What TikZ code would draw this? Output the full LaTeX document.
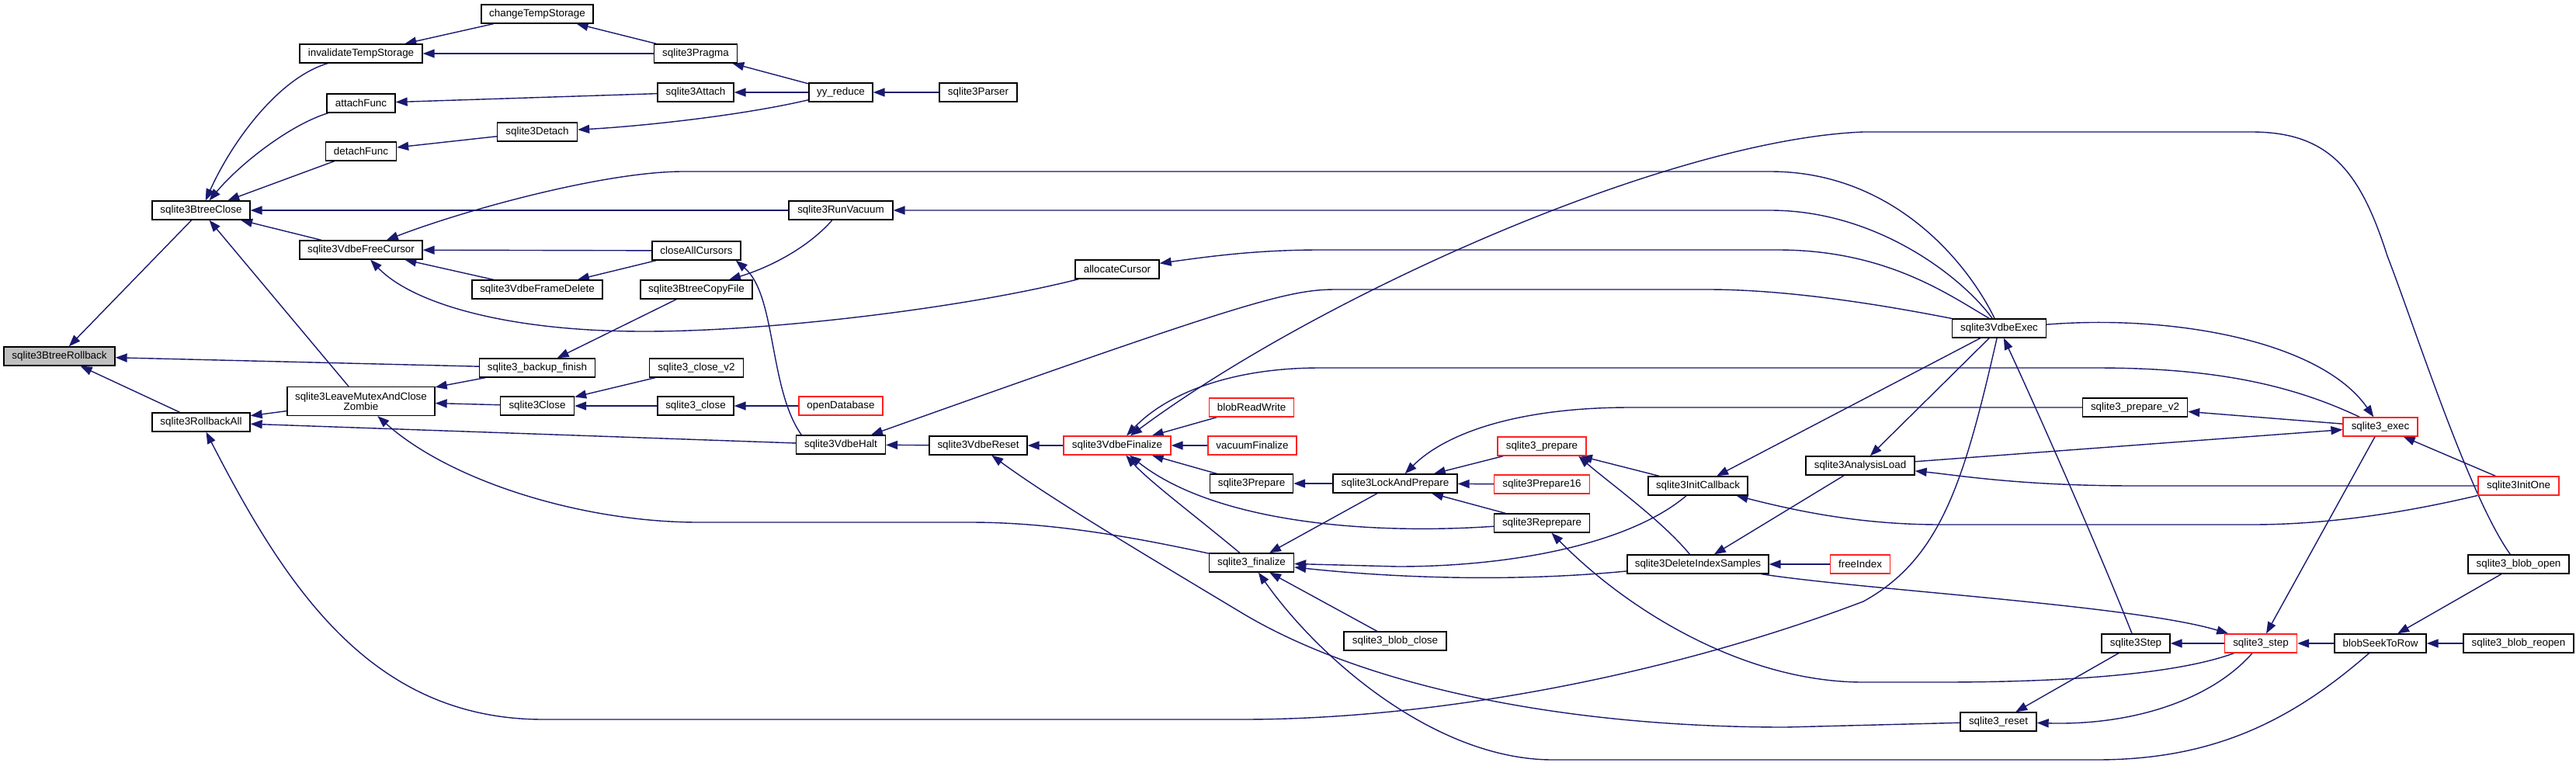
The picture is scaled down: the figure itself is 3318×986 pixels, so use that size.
\documentclass[tikz,border=0pt]{standalone}
\usepackage{fontspec}
\setmainfont{Liberation Sans}
\usetikzlibrary{arrows.meta}
\definecolor{edgecol}{HTML}{191970}
\definecolor{rootfill}{HTML}{BFBFBF}
\definecolor{redline}{HTML}{FF2020}
\pgfdeclarelayer{bg}
\pgfsetlayers{bg,main}
\begin{document}
\begin{tikzpicture}[x=0.5pt,y=-0.5pt,
  box/.style={draw=black, line width=0.65pt, fill=white, minimum height=12pt, inner xsep=2pt, inner ysep=0pt, font=\fontsize{6.7pt}{6.6pt}\selectfont},
  redbox/.style={box, draw=redline},
  rootbox/.style={box, fill=rootfill},
  e/.style={draw=edgecol, line width=0.7pt, -{Triangle[length=7.5pt,width=5.5pt]}}]
\useasboundingbox (0,0) rectangle (3318,986);
% nodes
\node[rootbox, minimum width=71.5pt] (rb) at (76.5,459) {sqlite3BtreeRollback};
\node[box, minimum width=63pt] (btc) at (259,271) {sqlite3BtreeClose};
\node[box, minimum width=63pt] (rba) at (259,544) {sqlite3RollbackAll};
\node[box, minimum width=72pt] (cts) at (692,18) {changeTempStorage};
\node[box, minimum width=79pt] (inv) at (465,69) {invalidateTempStorage};
\node[box, minimum width=44pt] (att) at (465,133) {attachFunc};
\node[box, minimum width=45.5pt] (det) at (465,195) {detachFunc};
\node[box, minimum width=79pt] (fc) at (465,322) {sqlite3VdbeFreeCursor};
\node[box, minimum width=95pt, minimum height=18.5pt, align=center] (zom) at (465,517) {sqlite3LeaveMutexAndClose\\Zombie};
\node[box, minimum width=53.5pt] (prg) at (896,69) {sqlite3Pragma};
\node[box, minimum width=49pt] (sat) at (896,119) {sqlite3Attach};
\node[box, minimum width=51.5pt] (sdt) at (692,170) {sqlite3Detach};
\node[box, minimum width=41pt] (yy) at (1083,119) {yy\_reduce};
\node[box, minimum width=50pt] (prs) at (1260,119) {sqlite3Parser};
\node[box, minimum width=67pt] (vac) at (1083,271) {sqlite3RunVacuum};
\node[box, minimum width=57pt] (cac) at (897,323) {closeAllCursors};
\node[box, minimum width=84pt] (fdel) at (692,373) {sqlite3VdbeFrameDelete};
\node[box, minimum width=72pt] (bcf) at (897,373) {sqlite3BtreeCopyFile};
\node[box, minimum width=74.5pt] (bkf) at (692,474) {sqlite3\_backup\_finish};
\node[box, minimum width=47.5pt] (scl) at (692,523) {sqlite3Close};
\node[box, minimum width=54pt] (alc) at (1439,347) {allocateCursor};
\node[box, minimum width=60.5pt] (cv2) at (897,474) {sqlite3\_close\_v2};
\node[box, minimum width=49pt] (sclose) at (896,523) {sqlite3\_close};
\node[redbox, minimum width=54pt] (odb) at (1083,523) {openDatabase};
\node[box, minimum width=57.5pt] (vhalt) at (1083,573) {sqlite3VdbeHalt};
\node[box, minimum width=63pt] (vreset) at (1260,574) {sqlite3VdbeReset};
\node[redbox, minimum width=69pt] (vfin) at (1439,574) {sqlite3VdbeFinalize};
\node[redbox, minimum width=54.5pt] (brw) at (1612,525) {blobReadWrite};
\node[redbox, minimum width=57pt] (vaf) at (1613,574) {vacuumFinalize};
\node[box, minimum width=53.5pt] (sprep) at (1612,623) {sqlite3Prepare};
\node[box, minimum width=80pt] (lap) at (1797,623) {sqlite3LockAndPrepare};
\node[redbox, minimum width=57pt] (sprepare) at (1986,575) {sqlite3\_prepare};
\node[redbox, minimum width=61.5pt] (p16) at (1986,624) {sqlite3Prepare16};
\node[box, minimum width=64pt] (icb) at (2187,626) {sqlite3InitCallback};
\node[box, minimum width=70pt] (anl) at (2396,600) {sqlite3AnalysisLoad};
\node[box, minimum width=60.5pt] (vexec) at (2575,423) {sqlite3VdbeExec};
\node[box, minimum width=67.5pt] (pv2) at (2750,525) {sqlite3\_prepare\_v2};
\node[redbox, minimum width=48pt] (sexec) at (3066,550) {sqlite3\_exec};
\node[redbox, minimum width=52pt] (ione) at (3244,626) {sqlite3InitOne};
\node[box, minimum width=61.5pt] (rprep) at (1986,674) {sqlite3Reprepare};
\node[box, minimum width=91pt] (dis) at (2187,727) {sqlite3DeleteIndexSamples};
\node[redbox, minimum width=38.5pt] (fidx) at (2396,727) {freeIndex};
\node[box, minimum width=66pt] (bcl) at (1797,826) {sqlite3\_blob\_close};
\node[box, minimum width=54.5pt] (sfin) at (1612,725) {sqlite3\_finalize};
\node[box, minimum width=65pt] (bopen) at (3244,727) {sqlite3\_blob\_open};
\node[box, minimum width=44pt] (sstp) at (2751,829) {sqlite3Step};
\node[redbox, minimum width=46.5pt] (sstep) at (2912,829) {sqlite3\_step};
\node[box, minimum width=59pt] (bstr) at (3066,829) {blobSeekToRow};
\node[box, minimum width=71pt] (brop) at (3244,829) {sqlite3\_blob\_reopen};
\node[box, minimum width=49pt] (rst) at (2574,930) {sqlite3\_reset};
% edges
\begin{pgfonlayer}{bg}
\draw[e] (btc) -- (rb);
\draw[e] (bkf) -- (rb);
\draw[e] (rba) -- (rb);
\draw[e] (inv) .. controls (360,100) and (300,180) .. (btc);
\draw[e] (att) .. controls (375,160) and (310,210) .. (btc);
\draw[e] (det) -- (btc);
\draw[e] (vac) -- (btc);
\draw[e] (fc) -- (btc);
\draw[e] (zom) -- (btc);
\draw[e] (cts) -- (inv);
\draw[e] (prg) -- (inv);
\draw[e] (prg) -- (cts);
\draw[e] (sat) -- (att);
\draw[e] (sdt) -- (det);
\draw[e] (yy) .. controls (950,150) and (820,163) .. (sdt);
\draw[e] (yy) -- (prg);
\draw[e] (yy) -- (sat);
\draw[e] (prs) -- (yy);
\draw[e] (vexec.115) .. controls (2535,340) and (2440,221) .. (2280,221) -- (880,221) .. controls (780,221) and (600,270) .. (fc);
\draw[e] (vexec.125) .. controls (2530,360) and (2420,271) .. (2280,271) -- (vac);
\draw[e] (vexec.135) .. controls (2510,380) and (2430,322) .. (2290,322) -- (1700,322) .. controls (1620,322) and (1560,330) .. (alc);
\draw[e] (vexec.north west) .. controls (2460,400) and (2320,373) .. (2200,373) -- (1720,373) .. controls (1660,373) and (1600,390) .. (vhalt.18);
\draw[e] (vhalt.166) .. controls (990,500) and (1000,380) .. (cac.-14);
\draw[e] (vac) .. controls (1040,320) and (990,345) .. (bcf);
\draw[e] (cac) -- (fc);
\draw[e] (fdel) -- (fc);
\draw[e] (cac) -- (fdel);
\draw[e] (alc) .. controls (1250,395) and (1000,427) .. (830,427) .. controls (650,427) and (530,390) .. (fc);
\draw[e] (bcf) -- (bkf);
\draw[e] (bkf) -- (zom);
\draw[e] (scl) -- (zom);
\draw[e] (cv2) -- (scl);
\draw[e] (sclose) -- (scl);
\draw[e] (odb) -- (sclose);
\draw[e] (vhalt) -- (rba);
\draw[e] (zom) -- (rba);
\draw[e] (vexec) .. controls (2530,620) and (2500,720) .. (2400,775) .. controls (2150,870) and (1850,927) .. (1600,927) -- (700,927) .. controls (480,927) and (370,760) .. (rba);
\draw[e] (vreset) -- (vhalt);
\draw[e] (vfin) -- (vreset);
\draw[e] (rst) -- (2300,937) .. controls (2000,937) and (1750,880) .. (1600,790) .. controls (1450,700) and (1350,640) .. (vreset);
\draw[e] (brw) -- (vfin);
\draw[e] (vaf) -- (vfin);
\draw[e] (sprep) -- (vfin);
\draw[e] (sfin) .. controls (1540,665) and (1480,620) .. (vfin);
\draw[e] (rprep) .. controls (1750,690) and (1560,670) .. (vfin);
\draw[e] (bopen.130) .. controls (3180,640) and (3110,420) .. (3075,330) .. controls (3040,220) and (3000,170) .. (2900,170) -- (2400,170) .. controls (2150,180) and (1700,380) .. (vfin);
\draw[e] (sexec) .. controls (2950,495) and (2850,474) .. (2700,474) -- (1700,474) .. controls (1580,474) and (1500,510) .. (vfin);
\draw[e] (lap) -- (sprep);
\draw[e] (sprepare) -- (lap);
\draw[e] (p16) -- (lap);
\draw[e] (pv2) -- (2100,525) .. controls (1950,525) and (1860,560) .. (lap);
\draw[e] (rprep) -- (lap);
\draw[e] (lap) -- (sfin);
\draw[e] (icb) -- (sprepare);
\draw[e] (dis) .. controls (2140,670) and (2070,620) .. (sprepare.-15);
\draw[e] (vexec) -- (icb);
\draw[e] (vexec) -- (anl);
\draw[e] (ione) .. controls (3100,660) and (3000,676) .. (2900,676) -- (2500,676) .. controls (2400,676) and (2320,660) .. (icb);
\draw[e] (ione) -- (2750,626) .. controls (2600,626) and (2520,612) .. (anl);
\draw[e] (anl) -- (sexec);
\draw[e] (vexec) .. controls (2800,405) and (2990,440) .. (sexec);
\draw[e] (sexec) -- (pv2);
\draw[e] (ione) -- (sexec);
\draw[e] (sexec) -- (sstep);
\draw[e] (dis) .. controls (2400,760) and (2750,780) .. (sstep);
\draw[e] (sstep) .. controls (2800,870) and (2650,879) .. (2500,879) -- (2400,879) .. controls (2250,879) and (2100,790) .. (rprep);
\draw[e] (sstp) -- (rst);
\draw[e] (sstep) .. controls (2850,900) and (2750,935) .. (rst);
\draw[e] (sstep) -- (sstp);
\draw[e] (sstp) .. controls (2700,700) and (2620,520) .. (vexec);
\draw[e] (bstr) -- (sstep);
\draw[e] (bopen) -- (bstr);
\draw[e] (brop) -- (bstr);
\draw[e] (bstr) .. controls (2950,930) and (2850,979) .. (2700,979) -- (2000,979) .. controls (1850,979) and (1700,850) .. (sfin);
\draw[e] (bcl) -- (sfin);
\draw[e] (icb) .. controls (2100,700) and (1950,730) .. (1800,730) -- (sfin);
\draw[e] (dis) .. controls (1950,750) and (1800,745) .. (sfin);
\draw[e] (fidx) -- (dis);
\draw[e] (anl) -- (dis);
\draw[e] (sfin) .. controls (1450,690) and (1350,673) .. (1250,673) -- (900,673) .. controls (750,673) and (580,620) .. (zom);
\end{pgfonlayer}
\end{tikzpicture}
\end{document}
